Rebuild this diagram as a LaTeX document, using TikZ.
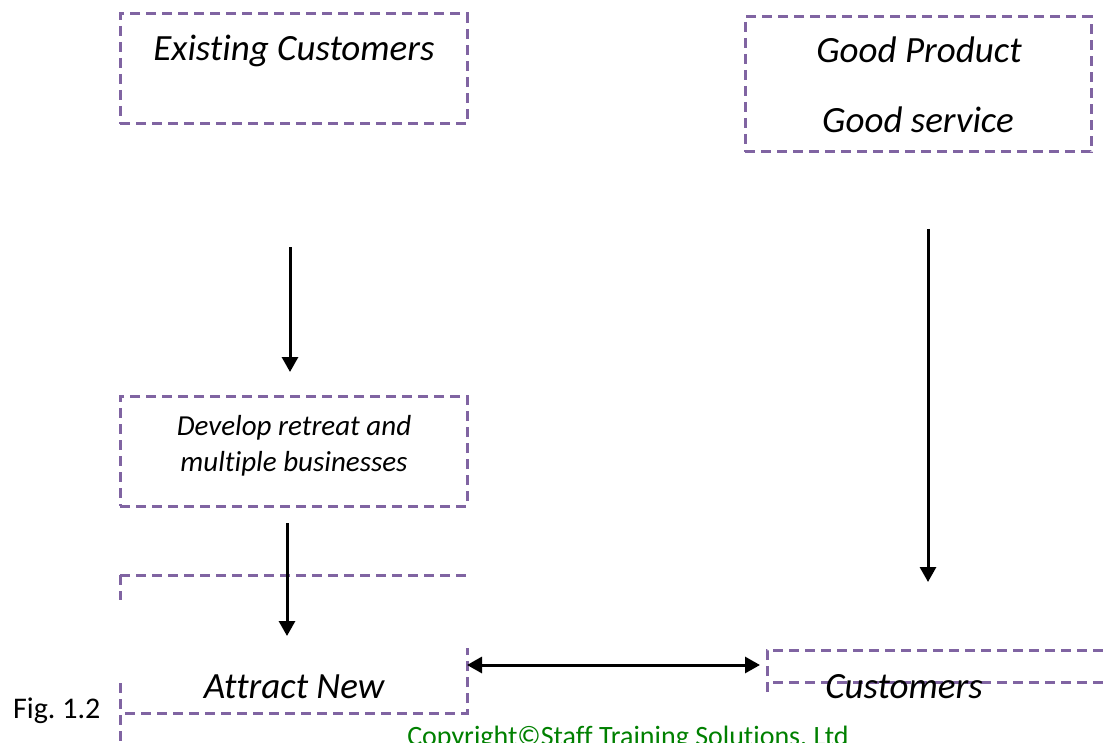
\documentclass[tikz,border=0pt]{standalone}
\usepackage{fontspec}
\setmainfont{Carlito}[Ligatures=CommonOff]
\usetikzlibrary{arrows.meta}
\definecolor{boxpurple}{RGB}{128,100,162}
\definecolor{copygreen}{RGB}{0,128,0}

\begin{document}
\begin{tikzpicture}[x=1pt, y=-1pt,
    dashbox/.style={draw=boxpurple, dash pattern=on 10pt off 6pt, line width=3pt},
    flow/.style={line width=3pt, -{Triangle[length=15pt, width=16pt]}},
    big/.style={font=\fontsize{37}{44}\selectfont\itshape, inner sep=0pt, anchor=base},
    small/.style={font=\fontsize{29}{36}\selectfont\itshape, inner sep=0pt, anchor=base}]
    \useasboundingbox (0,0) rectangle (1107,743);

    % Рамки
    \node[dashbox, minimum width=347pt, minimum height=110pt] (existbox) at (293.5,69) {};
    \node[dashbox, minimum width=346pt, minimum height=135pt] (goodbox) at (918,84.5) {};
    \node[dashbox, minimum width=347pt, minimum height=110pt] (developbox) at (293.5,451) {};

    % Разорванные рамки внизу
    \draw[dashbox] (120,575) -- (467,575);
    \draw[dashbox] (120,575) -- (120,600);
    \draw[dashbox] (120,683) -- (120,743);
    \draw[dashbox] (125,713) -- (467,713) -- (467,648);
    \draw[dashbox] (767,692) -- (767,650) -- (1107,650);
    \draw[dashbox] (773,682) -- (1107,682);

    % Тексты
    \node[big] (existing) at (294,61) {Existing Customers};
    \node[big] (product) at (919,63) {Good Product};
    \node[big] (service) at (918,133) {Good service};
    \node[small] (develop) at (294,435) {Develop retreat and};
    \node[small] (multiple) at (294,471) {multiple businesses};
    \node[big] (attract) at (294,698) {Attract New};
    \node[big] (customers) at (904,698) {Customers};
    \node[font=\fontsize{30}{36}\selectfont, inner sep=0pt, anchor=base west] (fig) at (13,718) {Fig.\ 1.2};
    \node[font=\fontsize{28}{34}\selectfont, text=copygreen, inner sep=0pt, anchor=base] (copyright) at (628,745) {Copyright©Staff Training Solutions, Ltd};

    % Стрелки
    \foreach \name/\x/\ya/\yb in {left/290/247/372, right/928/229/582, lower/287/523/636} {
        \coordinate (\name start) at (\x,\ya);
        \coordinate (\name tip) at (\x,\yb);
        \draw[flow] (\name start) -- (\name tip);
    }
    \coordinate (attractR) at (467,665);
    \coordinate (customersL) at (760,665);
    \draw[flow, {Triangle[length=15pt, width=16pt]}-{Triangle[length=15pt, width=16pt]}] (attractR) -- (customersL);

\end{tikzpicture}
\end{document}
